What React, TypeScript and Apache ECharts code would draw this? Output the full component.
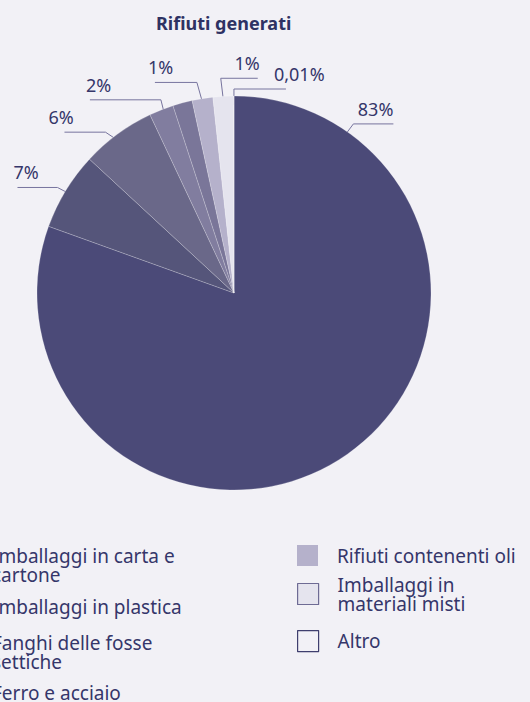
import React, { useEffect, useRef } from 'react';
import * as echarts from 'echarts';

// ---- data ----
const categories = [
  'Imballaggi in carta e cartone',
  'Imballaggi in plastica',
  'Fanghi delle fosse settiche',
  'Ferro e acciaio',
  'Altri rifiuti', // unlabeled slice, its legend entry is outside the picture
  'Rifiuti contenenti oli',
  'Imballaggi in materiali misti',
  'Altro',
];
// slice shares
const shares = [80.5, 6.4, 6.1, 2.0, 1.6, 1.7, 1.7, 0.01];
// percentages printed next to the slices
const shareLabels = ['83%', '7%', '6%', '2%', '', '1%', '1%', '0,01%'];
const leftLegend = [categories[0], categories[1], categories[2], categories[3]];
const rightLegend = [categories[5], categories[6], categories[7]];

// ---- styles / layout ----
const BG = '#f2f1f6';
const TEXT = '#35366a';
const colors = ['#4b4a78', '#55557a', '#6a6889', '#817d9f', '#7a7699', '#b5b1cb', '#e5e4ee', BG];
const CX = 234;
const CY = 293;
const R = 197;

const legendWrap: Record<string, string> = {
  'Imballaggi in carta e cartone': 'Imballaggi in carta e\ncartone',
  'Fanghi delle fosse settiche': 'Fanghi delle fosse\nsettiche',
  'Imballaggi in materiali misti': 'Imballaggi in\nmateriali misti',
};
const legendPos: Record<string, { left: number; top: number }> = {
  [categories[0]]: { left: -48, top: 546 },
  [categories[1]]: { left: -48, top: 596 },
  [categories[2]]: { left: -48, top: 633 },
  [categories[3]]: { left: -48, top: 682 },
  [categories[5]]: { left: 297, top: 545 },
  [categories[6]]: { left: 297, top: 575 },
  [categories[7]]: { left: 297, top: 630 },
};
const legendBorder: Record<string, string> = {
  [categories[6]]: '#6e6b94',
  [categories[7]]: '#3f3f6e',
};

type Guide = { angle?: number; inset: number; elbow: [number, number]; run: number; align: 'left' | 'right'; tdx: number } | null;
const guides: Guide[] = [
  { angle: 35, inset: 15, elbow: [15, -20], run: 40, align: 'right', tdx: 0 },
  { inset: 15, elbow: [-21, -11], run: -40, align: 'left', tdx: -4 },
  { inset: 15, elbow: [-21, -14], run: -41, align: 'left', tdx: -16 },
  { inset: 15, elbow: [-6, -24], run: -71, align: 'left', tdx: -4 },
  null,
  { inset: 9, elbow: [-7, -25], run: -42, align: 'left', tdx: -7 },
  { inset: 7, elbow: [-3, -25], run: 37, align: 'right', tdx: 2 },
  { inset: 9, elbow: [0, -16], run: 52, align: 'left', tdx: -12 },
];

function midAngles(): number[] {
  const total = shares.reduce((a, b) => a + b, 0);
  let acc = 0;
  return shares.map((v) => {
    const a = ((acc + v / 2) / total) * 360;
    acc += v;
    return a;
  });
}

export default function App() {
  const ref = useRef<HTMLDivElement>(null);
  useEffect(() => {
    if (!ref.current) return;
    const chart = echarts.init(ref.current, undefined, { renderer: 'svg' });
    const mids = midAngles();

    const legends = [...leftLegend, ...rightLegend].map((name) => ({
      data: [
        {
          name,
          itemStyle: legendBorder[name]
            ? { borderColor: legendBorder[name], borderWidth: 1.2 }
            : { borderWidth: 0 },
        },
      ],
      left: legendPos[name].left,
      top: legendPos[name].top,
      orient: 'vertical',
      padding: 0,
      icon: 'rect',
      itemWidth: 21,
      itemHeight: 21,
      selectedMode: false,
      formatter: (n: string) => legendWrap[n] ?? n,
      textStyle: {
        color: TEXT,
        fontFamily: 'Noto Sans',
        fontSize: 19,
        lineHeight: 19,
        padding: [0, 0, 0, 14],
      },
    }));

    chart.setOption({
      animation: false,
      backgroundColor: BG,
      title: {
        text: 'Rifiuti generati',
        left: 156,
        top: 14,
        padding: 0,
        textStyle: { color: '#2e3263', fontFamily: 'Noto Sans', fontWeight: 'bold', fontSize: 18 },
      },
      legend: legends,
      series: [
        {
          type: 'pie',
          center: [CX, CY],
          radius: R,
          startAngle: 90,
          clockwise: true,
          avoidLabelOverlap: false,
          itemStyle: { borderColor: 'rgba(255,255,255,0.35)', borderWidth: 0.6 },
          label: {
            show: true,
            position: 'outside',
            color: TEXT,
            fontFamily: 'Noto Sans',
            fontSize: 18,
            formatter: (p: any) => shareLabels[p.dataIndex],
          },
          labelLine: { show: true, lineStyle: { color: '#77749e', width: 1 } },
          labelLayout: (params: any) => {
            const g = guides[params.dataIndex];
            if (!g) return {};
            const ang = ((g.angle ?? mids[params.dataIndex]) * Math.PI) / 180;
            const r = R - g.inset;
            const sx = CX + r * Math.sin(ang);
            const sy = CY - r * Math.cos(ang);
            const ex = sx + g.elbow[0];
            const ey = sy + g.elbow[1];
            const fx = ex + g.run;
            return {
              x: fx + g.tdx,
              y: ey - 15,
              align: g.align,
              verticalAlign: 'middle',
              labelLinePoints: [
                [sx, sy],
                [ex, ey],
                [fx, ey],
              ],
            };
          },
          data: categories.map((name, i) => ({
            name,
            value: shares[i],
            itemStyle: { color: colors[i] },
            ...(shareLabels[i] === '' ? { label: { show: false }, labelLine: { show: false } } : {}),
          })),
        },
      ],
    });
    return () => chart.dispose();
  }, []);
  return (
    <div
      ref={ref}
      style={{ position: 'absolute', left: 0, top: 0, width: 530, height: 702 }}
    />
  );
}
